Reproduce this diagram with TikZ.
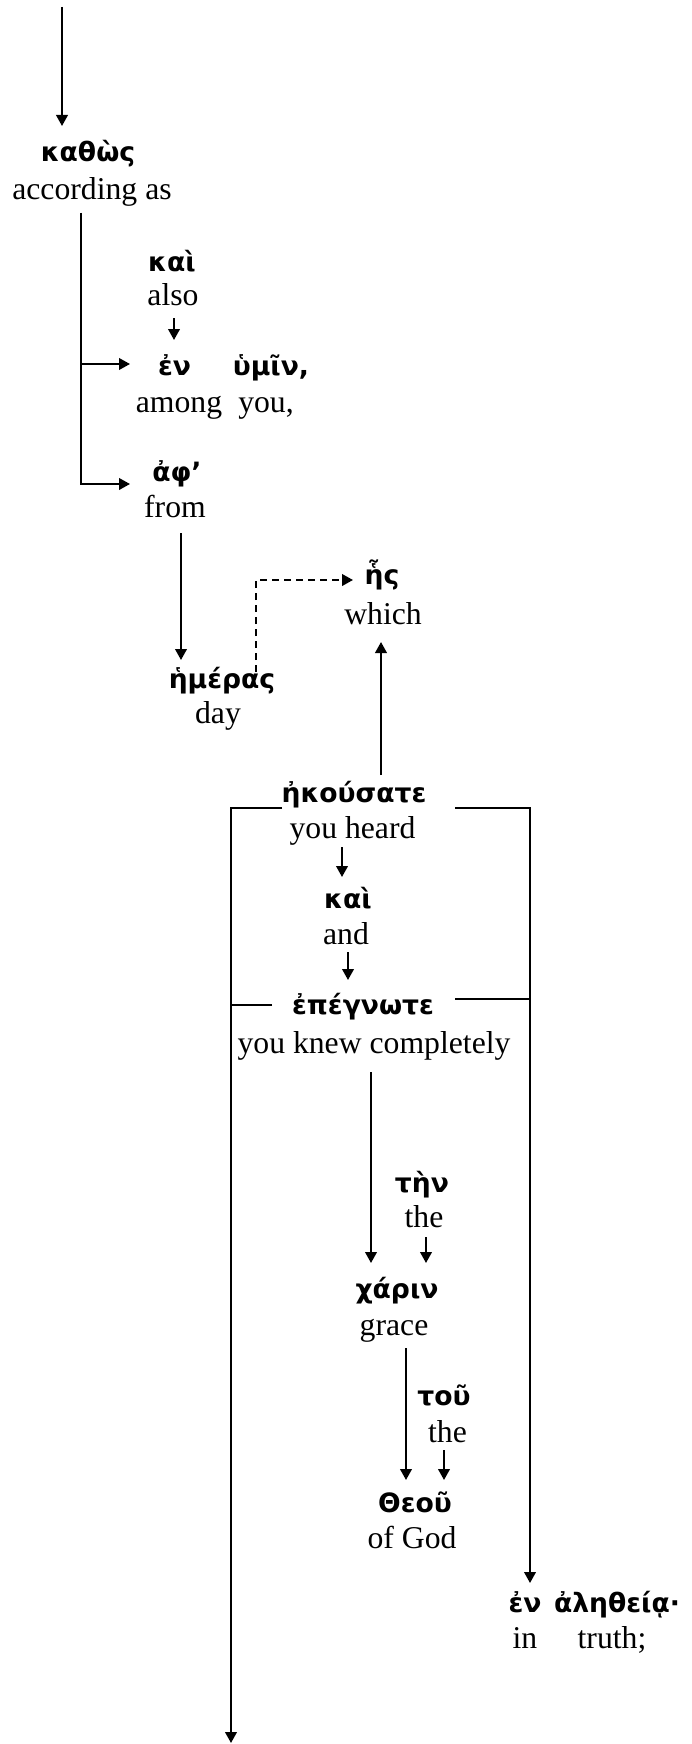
\documentclass[tikz,border=0pt]{standalone}
\usepackage{fontspec}
\setmainfont{Liberation Serif}
\newfontfamily\grk{DejaVu Sans}
\usetikzlibrary{arrows.meta,calc}
\tikzset{
  gw/.style={anchor=base,inner sep=0pt,font=\grk\bfseries\fontsize{13.3pt}{15pt}\selectfont},
  ew/.style={anchor=base,inner sep=0pt,font=\fontsize{15.85pt}{18pt}\selectfont},
  arr/.style={line width=1pt,-{Triangle[length=5.5pt,width=5.8pt]}},
  ln/.style={line width=1pt},
  dsh/.style={line width=1pt,dash pattern=on 3.5pt off 2.5pt,-{Triangle[length=5.5pt,width=5.8pt]}}
}
\begin{document}
\begin{tikzpicture}[x=0.5pt,y=-0.5pt]
\useasboundingbox (0,0) rectangle (691,1744);
% words
\node[gw] (gKathos) at (88,162) {καθὼς};
\node[ew] (eKathos) at (92,200) {according as};
\node[gw] (gKai1) at (172,271) {καὶ};
\node[ew] (eKai1) at (173,305) {also};
\node[gw] (gEn1) at (174.5,375) {ἐν};
\node[gw] (gHymin) at (271,375) {ὑμῖν,};
\node[ew] (eEn1) at (179,412) {among};
\node[ew] (eHymin) at (266,412) {you,};
\node[gw] (gAph) at (177,481) {ἀφ’};
\node[ew] (eAph) at (175,517) {from};
\node[gw] (gHem) at (222,688) {ἡμέρας};
\node[ew] (eHem) at (218,723) {day};
\node[gw] (gHes) at (382,584) {ἧς};
\node[ew] (eHes) at (383,624) {which};
\node[gw] (gEk) at (354,802) {ἠκούσατε};
\node[ew] (eEk) at (352.5,838) {you heard};
\node[gw] (gKai2) at (348,908) {καὶ};
\node[ew] (eKai2) at (346,944) {and};
\node[gw] (gEpe) at (363,1014) {ἐπέγνωτε};
\node[ew] (eEpe) at (374,1053) {you knew completely};
\node[gw] (gTen) at (422,1192) {τὴν};
\node[ew] (eTen) at (424,1227) {the};
\node[gw] (gChar) at (397,1298) {χάριν};
\node[ew] (eChar) at (394,1335) {grace};
\node[gw] (gTou) at (444,1405) {τοῦ};
\node[ew] (eTou) at (447.5,1442) {the};
\node[gw] (gTheou) at (415,1512) {Θεοῦ};
\node[ew] (eTheou) at (412,1548) {of God};
\node[gw] (gEnA) at (525,1612) {ἐν};
\node[gw] (gAl) at (617,1612) {ἀληθείᾳ·};
\node[ew] (eEnA) at (525,1648) {in};
\node[ew] (eAl) at (612,1648) {truth;};
\coordinate (top) at (62,7);
\coordinate (bottom) at (231,1743);
% connectors
\draw[arr] (top) -- ($(gKathos.base)+(-26,-36)$);
\draw[arr] ($(eKathos.base)+(-11,13)$) |- ($(gEn1.base)+(-44.5,-11)$);
\draw[arr] ($(eKathos.base)+(-11,13)$) |- ($(gAph.base)+(-47,3)$);
\draw[arr] ($(eKai1.base)+(1,13)$) -- ($(gEn1.base)+(-0.5,-35)$);
\draw[arr] ($(eAph.base)+(6,16)$) -- ($(gHem.base)+(-41,-28)$);
\draw[dsh] ($(gHem.base)+(34,-16)$) |- ($(gHes.base)+(-29,-4)$);
\draw[arr] ($(gEk.base)+(27,-27)$) -- ($(eHes.base)+(-2,18)$);
\draw[arr] ($(gEk.base)+(-72,6)$) -| (bottom);
\draw[ln] ($(gEpe.base)+(-91,-9)$) -- ($(gEpe.base)+(-132,-9)$);
\draw[arr] ($(gEk.base)+(101,6)$) -| ($(gEnA.base)+(5,-29)$);
\draw[ln] ($(gEpe.base)+(92,-15)$) -- ($(gEpe.base)+(168,-15)$);
\draw[arr] ($(eEk.base)+(-10.5,9)$) -- ($(gKai2.base)+(-6,-31)$);
\draw[arr] ($(eKai2.base)+(2,8)$) -- ($(gEpe.base)+(-15,-34)$);
\draw[arr] ($(eEpe.base)+(-3,19)$) -- ($(gChar.base)+(-26,-35)$);
\draw[arr] ($(eTen.base)+(2,10)$) -- ($(gChar.base)+(29,-35)$);
\draw[arr] ($(eChar.base)+(12,13)$) -- ($(gTheou.base)+(-9,-32)$);
\draw[arr] ($(eTou.base)+(-3.5,8)$) -- ($(gTheou.base)+(29,-32)$);
\end{tikzpicture}
\end{document}
